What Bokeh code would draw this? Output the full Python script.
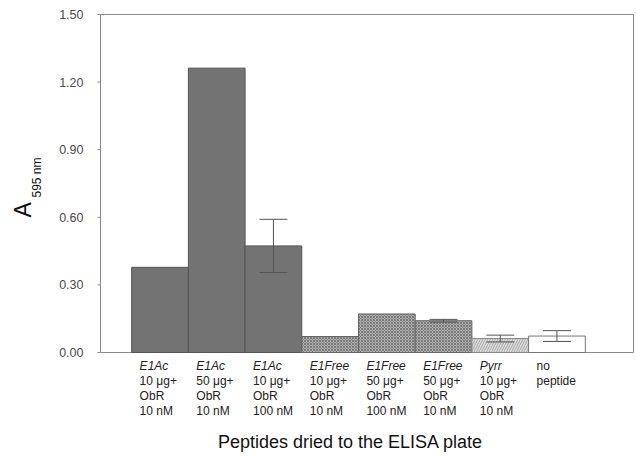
import math
from bokeh.plotting import figure
from bokeh.models import ColumnDataSource, Whisker, TeeHead, Range1d
from bokeh.core.properties import value
from bokeh.embed import file_html
from bokeh.resources import INLINE

# ---- data ----
peptides = ["E1Ac", "E1Ac", "E1Ac", "E1Free", "E1Free", "E1Free", "Pyrr", "no"]
amounts = ["10 μg+", "50 μg+", "10 μg+", "10 μg+", "50 μg+", "50 μg+", "10 μg+", "peptide"]
receptor = ["ObR", "ObR", "ObR", "ObR", "ObR", "ObR", "ObR", ""]
conc = ["10 nM", "10 nM", "100 nM", "10 nM", "100 nM", "10 nM", "10 nM", ""]
values = [0.378, 1.262, 0.473, 0.071, 0.171, 0.141, 0.062, 0.073]
errors = [0.0, 0.0, 0.118, 0.0, 0.0, 0.006, 0.015, 0.024]
y_ticks = [0.0, 0.3, 0.6, 0.9, 1.2, 1.5]
y_min, y_max = 0.0, 1.5

xpos = list(range(len(values)))

# layout: plotting box occupies pixels x 100..633, y 14..352 of a 636x456 canvas
W, H = 636, 456
BOX_L, BOX_R, BOX_T, BOX_B = 100, 633, 14, 352
X0, X1 = -1.05, 8.35
xppu = (BOX_R - BOX_L) / (X1 - X0)
yppu = (BOX_B - BOX_T) / (y_max - y_min)


def px2x(px):
    return X0 + (px - BOX_L) / xppu


def py2y(py):
    return y_min + (BOX_B - py) / yppu


p = figure(width=W, height=H, output_backend="svg", toolbar_location=None,
           x_range=Range1d(px2x(0), px2x(W)), y_range=Range1d(py2y(H), py2y(0)),
           min_border=0, min_border_left=0, min_border_right=0,
           min_border_top=0, min_border_bottom=0)
p.axis.visible = False
p.grid.visible = False
p.outline_line_color = None

AX = "#8a8a8a"
# box: left axis, bottom axis, top and right frame lines
p.segment(x0=[X0, X0, X0, X1], y0=[y_min, y_min, y_max, y_min],
          x1=[X0, X1, X1, X1], y1=[y_max, y_min, y_max, y_max],
          line_color=AX, line_width=1)

# y ticks and labels
p.segment(x0=[px2x(BOX_L - 3)] * len(y_ticks), y0=y_ticks,
          x1=[X0] * len(y_ticks), y1=y_ticks, line_color=AX, line_width=1)
p.text(x=[px2x(83)] * len(y_ticks), y=y_ticks, text=[f"{t:.2f}" for t in y_ticks],
       text_font=value("Liberation Sans"), text_font_size="12.5px", text_color="#4a4a4a",
       text_align="right", text_baseline="middle")

# bars
groups = [
    dict(idx=[0, 1, 2], fill="#737373", line="#555555", hatch=None),
    dict(idx=[3, 4, 5], fill="#b0b0b0", line="#666666", hatch="x"),
    dict(idx=[6], fill="#dcdcdc", line="#888888", hatch="/"),
    dict(idx=[7], fill="#ffffff", line="#777777", hatch=None),
]
for g in groups:
    src = ColumnDataSource(dict(x=[xpos[i] for i in g["idx"]], top=[values[i] for i in g["idx"]]))
    kw = {}
    if g["hatch"] == "x":
        kw = dict(hatch_pattern="x", hatch_color="#555555", hatch_scale=3, hatch_weight=0.6)
    elif g["hatch"] == "/":
        kw = dict(hatch_pattern="/", hatch_color="#999999", hatch_scale=5, hatch_weight=0.8)
    p.vbar(x="x", top="top", bottom=0, width=1.0, source=src,
           fill_color=g["fill"], line_color=g["line"], line_width=1, **kw)

# error bars
ei = [i for i in xpos if errors[i] > 0]
esrc = ColumnDataSource(dict(x=[xpos[i] for i in ei],
                             lo=[values[i] - errors[i] for i in ei],
                             hi=[values[i] + errors[i] for i in ei]))
wh = Whisker(base="x", lower="lo", upper="hi", source=esrc, dimension="height",
             line_color="#555555", line_width=1, level="overlay",
             upper_head=TeeHead(size=28, line_color="#555555", line_width=1),
             lower_head=TeeHead(size=28, line_color="#555555", line_width=1))
p.add_layout(wh)

# category labels below the bars (4 lines, first line italic)
line_py = [365, 380, 395, 410]
rows = [peptides, amounts, receptor, conc]
for k, row in enumerate(rows):
    xs, ys, ts = [], [], []
    xs_n, ys_n, ts_n = [], [], []
    for i in xpos:
        if not row[i]:
            continue
        if k == 0 and row[i] != "no":
            xs.append(i - 0.36); ys.append(py2y(line_py[k])); ts.append(row[i])
        else:
            xs_n.append(i - 0.36); ys_n.append(py2y(line_py[k])); ts_n.append(row[i])
    if ts:
        p.text(x=xs, y=ys, text=ts, text_font=value("Liberation Sans"), text_font_size="12px",
               text_font_style="italic", text_color="#222222",
               text_align="left", text_baseline="middle")
    if ts_n:
        p.text(x=xs_n, y=ys_n, text=ts_n, text_font=value("Liberation Sans"), text_font_size="12px",
               text_color="#222222", text_align="left", text_baseline="middle")

# x title
p.text(x=[px2x(350)], y=[py2y(441)], text=["Peptides dried to the ELISA plate"],
       text_font=value("Liberation Sans"), text_font_size="18px", text_color="#111111",
       text_align="center", text_baseline="middle")

# y title: A with subscript 595 nm
p.text(x=[px2x(22)], y=[py2y(217)], text=["A"], angle=math.pi / 2,
       text_font=value("Liberation Sans"), text_font_size="23px", text_color="#111111",
       text_align="left", text_baseline="middle")
p.text(x=[px2x(36)], y=[py2y(197)], text=["595 nm"], angle=math.pi / 2,
       text_font=value("Liberation Sans"), text_font_size="12px", text_color="#111111",
       text_align="left", text_baseline="middle")

open("out.html", "w").write(file_html(p, INLINE))
